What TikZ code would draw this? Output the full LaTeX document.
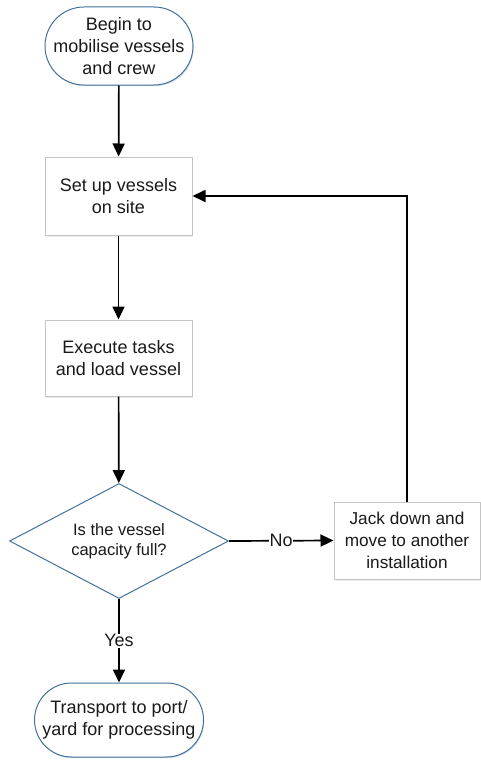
\documentclass[tikz,border=0pt]{standalone}
\usepackage{fontspec}
\setmainfont{Liberation Sans}
\usetikzlibrary{arrows.meta,shapes.geometric,shadows}
\definecolor{termblue}{HTML}{41719C}
\definecolor{boxgray}{HTML}{C4C4C4}
\definecolor{txt}{HTML}{1A1A1A}
\tikzset{
  terminator/.style={draw=termblue, line width=1pt, fill=white, align=center,
    text=txt, font=\fontsize{18}{22}\selectfont, inner sep=0pt,
    drop shadow={shadow xshift=0.8pt, shadow yshift=-1.2pt, opacity=0.25, fill=termblue}},
  procbox/.style={draw=boxgray, line width=1pt, fill=white, align=center,
    text=txt, font=\fontsize{18}{22}\selectfont, inner sep=0pt,
    drop shadow={shadow xshift=1pt, shadow yshift=-1.5pt, opacity=0.15, fill=gray}},
  decision/.style={diamond, draw=termblue, line width=1pt, fill=white, align=center,
    text=txt, font=\fontsize{16.5}{20}\selectfont, inner sep=0pt, aspect=1.9},
  flow/.style={draw=black, line width=1.7pt, -{Triangle[length=13pt,width=12pt]}},
  flowlabel/.style={fill=white, text=txt, font=\fontsize{18}{22}\selectfont, inner sep=0.5pt}
}
\begin{document}
\begin{tikzpicture}[x=1pt,y=-1pt]
\useasboundingbox (0,0) rectangle (481,760);
\node[terminator, minimum width=148pt, minimum height=78pt, rounded corners=39pt] (t1) at (119,46) {Begin to\\mobilise vessels\\and crew};
\node[procbox, minimum width=147pt, minimum height=78pt] (b1) at (118.5,196) {Set up vessels\\on site};
\node[procbox, minimum width=147pt, minimum height=76pt] (b2) at (118.5,358) {Execute tasks\\and load vessel};
\node[decision, minimum width=219pt, minimum height=115pt] (d) at (119,541) {Is the vessel\\capacity full?};
\node[procbox, minimum width=146pt, minimum height=77pt, font=\fontsize{17.2}{22}\selectfont] (j) at (407,540.5) {Jack down and\\move to another\\installation};
\node[terminator, minimum width=169pt, minimum height=74pt, rounded corners=37pt] (t2) at (119,720) {Transport to port/\\yard for processing};
\draw[flow] (t1) -- (b1);
\draw[flow] (b1) -- (b2);
\draw[flow] (b2) -- (d);
\draw[flow] (d.east) -- node[flowlabel] (no) {No} (j.west);
\draw[flow] (d.south) -- node[flowlabel] (yes) {Yes} (t2.north);
\draw[flow] (j.north) |- (b1.east);
\end{tikzpicture}
\end{document}
